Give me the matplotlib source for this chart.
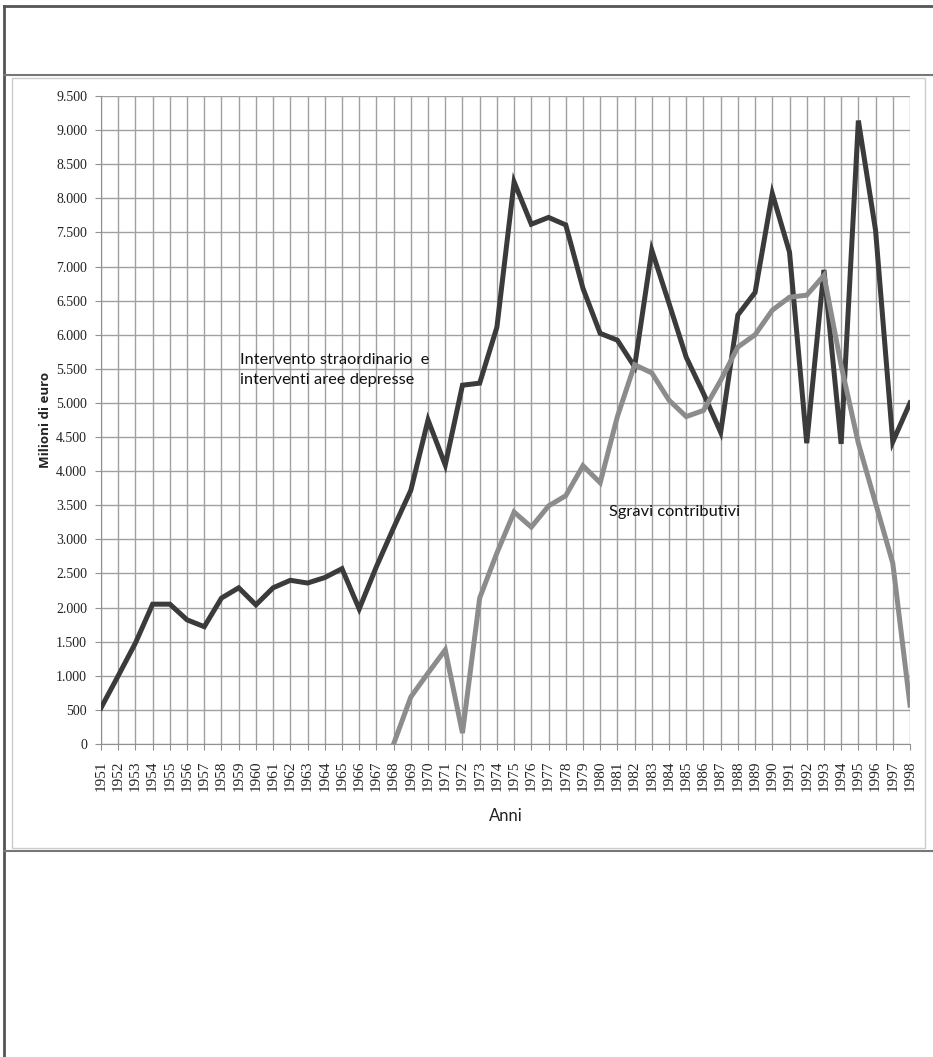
import numpy as np
import matplotlib.pyplot as plt
from matplotlib.lines import Line2D
from matplotlib.patches import Rectangle
from matplotlib.ticker import FuncFormatter

anni = list(range(1951, 1999))

# Intervento straordinario e interventi aree depresse (milioni di euro)
intervento = [530, 1000, 1480, 2050, 2050, 1820, 1720, 2140, 2290, 2040,
              2290, 2400, 2360, 2440, 2570, 1980, 2600, 3170, 3720, 4750,
              4090, 5260, 5290, 6110, 8240, 7620, 7720, 7610, 6680, 6020,
              5920, 5530, 7240, 6460, 5670, 5140, 4570, 6290, 6620, 8070,
              7210, 4410, 6950, 4400, 9140, 7530, 4430, 5000]

# Sgravi contributivi, dal 1968
anni_sgravi = list(range(1968, 1999))
sgravi = [0, 690, 1040, 1380, 160, 2140, 2800, 3400, 3180, 3490,
          3640, 4080, 3830, 4800, 5560, 5440, 5040, 4800, 4890, 5330,
          5820, 6000, 6360, 6550, 6580, 6870, 5550, 4410, 3530, 2650,
          570]

W, H = 933, 1057
fig = plt.figure(figsize=(W / 100, H / 100), dpi=100)
fig.patch.set_facecolor('white')


def fx(px):
    return px / W


def fy(py):
    return 1 - py / H


# page frame
fig.add_artist(Line2D([fx(4), fx(4)], [fy(6), fy(1057)], color='#555555', lw=2))
fig.add_artist(Line2D([fx(4), fx(933)], [fy(6), fy(6)], color='#555555', lw=2))
fig.add_artist(Line2D([fx(4), fx(933)], [fy(75), fy(75)], color='#777777', lw=1.5))
fig.add_artist(Line2D([fx(4), fx(933)], [fy(851), fy(851)], color='#777777', lw=1.5))
fig.add_artist(Rectangle((fx(12), fy(848)), fx(925) - fx(12), fy(78) - fy(848),
                         fill=False, edgecolor='#cccccc', lw=1))

ax = fig.add_axes([fx(101), fy(744), fx(910) - fx(101), fy(96) - fy(744)])
ax.plot(anni, intervento, color='#3b3b3b', lw=3.6, solid_joinstyle='miter', zorder=3)
ax.plot(anni_sgravi, sgravi, color='#8c8c8c', lw=3.6, solid_joinstyle='miter', zorder=3)

ax.set_xlim(1951, 1998)
ax.set_ylim(0, 9500)
ax.set_xticks(anni)
ax.set_xticklabels([str(a) for a in anni], rotation=90, fontsize=11,
                   family='Liberation Serif')
ax.set_yticks(np.arange(0, 9501, 500))
ax.yaxis.set_major_formatter(FuncFormatter(lambda v, p: f'{int(v):,}'.replace(',', '.')))
for lab in ax.get_yticklabels():
    lab.set_family('Liberation Serif')
    lab.set_fontsize(10)

ax.grid(True, color='#a0a0a0', lw=1)
ax.set_axisbelow(True)
for s in ['top', 'right']:
    ax.spines[s].set_visible(False)
for s in ['left', 'bottom']:
    ax.spines[s].set_color('#909090')
ax.tick_params(axis='both', colors='#909090', length=4, labelcolor='#222222')
ax.tick_params(axis='y', pad=6)
ax.tick_params(axis='x', pad=8)

ax.set_xlabel('Anni', fontsize=12, family='Lato', labelpad=12, color='#222222')
ax.set_ylabel('Milioni di euro', fontsize=9.5, family='Open Sans', fontweight='bold',
              labelpad=3, color='#222222')

ax.text(1959.1, 5480, 'Intervento straordinario  e\ninterventi aree depresse',
        fontsize=11.8, family='Lato', color='#111111', va='center', ha='left',
        linespacing=1.55)
ax.text(1980.5, 3400, 'Sgravi contributivi', fontsize=11.8, family='Lato',
        color='#111111', va='center', ha='left')

fig.savefig('out.png', dpi=100, facecolor='white')
